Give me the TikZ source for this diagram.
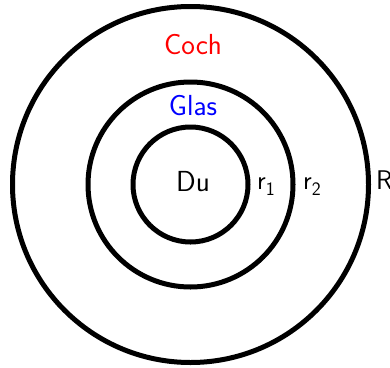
\documentclass[tikz,border=0pt]{standalone}
\begin{document}
\begin{tikzpicture}[x=1pt,y=-1pt,
  ring/.style={draw=black,line width=5pt},
  lbl/.style={font=\fontsize{29}{31}\selectfont\sffamily,inner sep=0pt,anchor=base},
  rlbl/.style={font=\fontsize{27}{29}\selectfont\sffamily,inner sep=0pt,anchor=base west}]
\newcommand{\rsub}[1]{\raisebox{-6pt}{\fontsize{19}{20}\selectfont #1}}
\useasboundingbox (0,0) rectangle (390,367);
\coordinate (c) at (190.5,184.5);
\draw[ring] (c) circle[radius=178];
\draw[ring] (c) circle[radius=102.5];
\draw[ring] (c) circle[radius=57.5];
\node[lbl,text=red] (coch) at (193,54) {Coch};
\node[lbl,text=blue] (glas) at (193,115) {Glas};
\node[lbl] (du) at (193,191) {Du};
\node[rlbl] (r1) at (257,189) {r\rsub{1}};
\node[rlbl] (r2) at (303,189) {r\rsub{2}};
\node[rlbl] (R) at (376,189) {R};
\end{tikzpicture}
\end{document}
